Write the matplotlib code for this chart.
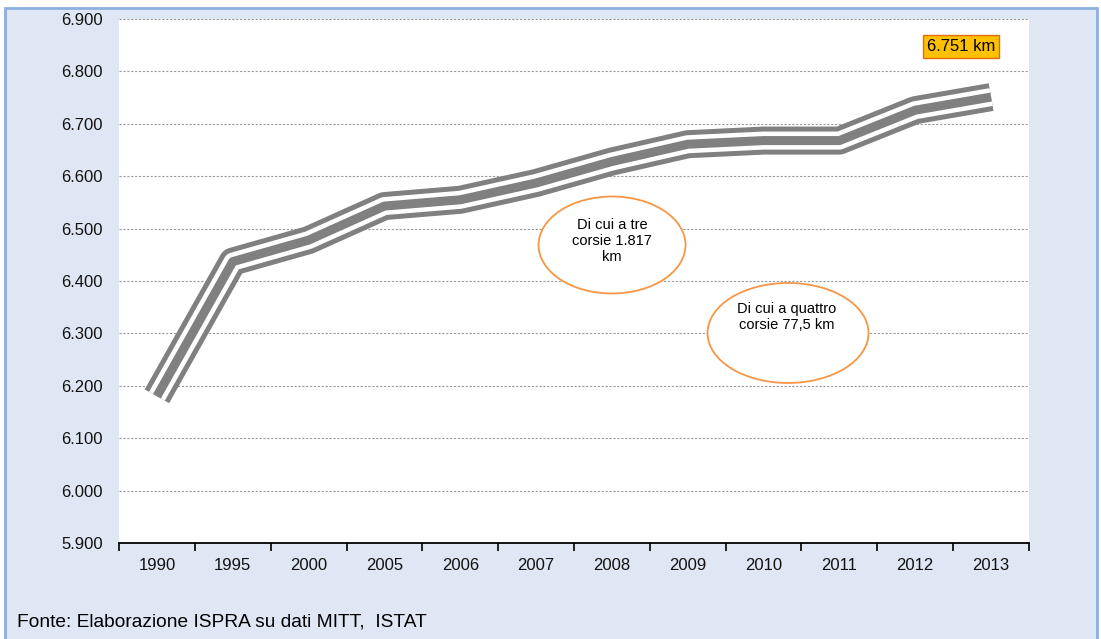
import matplotlib.pyplot as plt
import matplotlib.patheffects as pe
from matplotlib import font_manager
from matplotlib.patches import Ellipse, Rectangle
from matplotlib.ticker import FuncFormatter, FixedLocator

# rete autostradale italiana (km)
years = ["1990", "1995", "2000", "2005", "2006", "2007",
         "2008", "2009", "2010", "2011", "2012", "2013"]
km = [6180, 6437, 6478, 6543, 6555, 6587, 6628, 6661, 6668, 6668, 6726, 6751]

y_ticks = list(range(5900, 6901, 100))
last_label = "6.751 km"
note_three = "Di cui a tre\ncorsie 1.817\nkm"
note_four = "Di cui a quattro\ncorsie 77,5 km"
source = "Fonte: Elaborazione ISPRA su dati MITT,  ISTAT"

plt.rcParams['font.family'] = ['Liberation Sans', 'DejaVu Sans']

# font stretto per la fonte, se c'e'
try:
    font_manager.findfont(font_manager.FontProperties(family='Liberation Sans Narrow'),
                          fallback_to_default=False)
    src_font, src_size = ['Liberation Sans Narrow', 'DejaVu Sans'], 15.5
except Exception:
    src_font, src_size = ['Liberation Sans', 'DejaVu Sans'], 13.8

fig = plt.figure(figsize=(11.01, 6.39), dpi=100, facecolor='white')

# pannello azzurro con bordo
panel = Rectangle((5 / 1101, -0.05), 1092 / 1101, 1 - 8 / 639 + 0.05,
                  transform=fig.transFigure, facecolor='#DEE7F3',
                  edgecolor='#8DB1DE', lw=2.0, zorder=-10)
fig.patches.append(panel)

ax = fig.add_axes([119 / 1101, 1 - 543 / 639, 910 / 1101, 524 / 639])
ax.set_facecolor('white')

x = list(range(len(years)))
gray = '#808080'
ax.plot(x, km, color=gray, lw=6.5, solid_capstyle='butt',
        solid_joinstyle='round', zorder=4,
        path_effects=[pe.Stroke(linewidth=20.2, foreground=gray,
                                capstyle='butt', joinstyle='round'),
                      pe.Stroke(linewidth=13.0, foreground='white',
                                capstyle='butt', joinstyle='round'),
                      pe.Normal()])

ax.set_xlim(-0.5, len(years) - 0.5)
ax.set_ylim(y_ticks[0], y_ticks[-1])

ax.set_yticks(y_ticks)
ax.yaxis.set_major_formatter(FuncFormatter(lambda v, p: f"{int(v):,}".replace(',', '.')))
ax.tick_params(axis='y', length=0, pad=11.5, labelsize=12, labelcolor='#111111')

ax.set_xticks(x)
ax.set_xticklabels(years)
ax.xaxis.set_minor_locator(FixedLocator([i - 0.5 for i in range(len(years) + 1)]))
ax.tick_params(axis='x', which='major', length=0, pad=11, labelsize=12, labelcolor='#111111')
ax.tick_params(axis='x', which='minor', length=6, width=1.2, color='black', direction='out')

ax.yaxis.grid(True, linestyle=(0, (2, 1.5)), color='#9a9a9a', lw=0.8)
ax.set_axisbelow(True)
for side in ['left', 'top', 'right']:
    ax.spines[side].set_visible(False)
ax.spines['bottom'].set_color('black')
ax.spines['bottom'].set_linewidth(1.3)

# etichetta ultimo valore
ax.text(0.9253, 0.9475, last_label, transform=ax.transAxes, ha='center', va='center',
        fontsize=12, color='black', zorder=6,
        bbox=dict(boxstyle='square,pad=0.22', facecolor='#FFC000', edgecolor='#E46C0A', lw=1.0))

# ellissi con note
e1 = Ellipse((0.5418, 0.5687), 0.1615, 0.1851, transform=ax.transAxes,
             facecolor='white', edgecolor='#F79646', lw=1.3, zorder=5)
e2 = Ellipse((0.7352, 0.4008), 0.1769, 0.1908, transform=ax.transAxes,
             facecolor='white', edgecolor='#F79646', lw=1.3, zorder=5)
ax.add_patch(e1)
ax.add_patch(e2)
ax.text(0.5418, 0.5763, note_three, transform=ax.transAxes, ha='center', va='center',
        fontsize=10.5, color='black', linespacing=1.15, zorder=6)
ax.text(0.734, 0.4313, note_four, transform=ax.transAxes, ha='center', va='center',
        fontsize=10.5, color='black', linespacing=1.15, zorder=6)

fig.text(17 / 1101, 1 - 622 / 639, source, ha='left', va='center', fontsize=src_size,
         family=src_font, color='black')

fig.savefig('out.png', dpi=100, facecolor='white')
